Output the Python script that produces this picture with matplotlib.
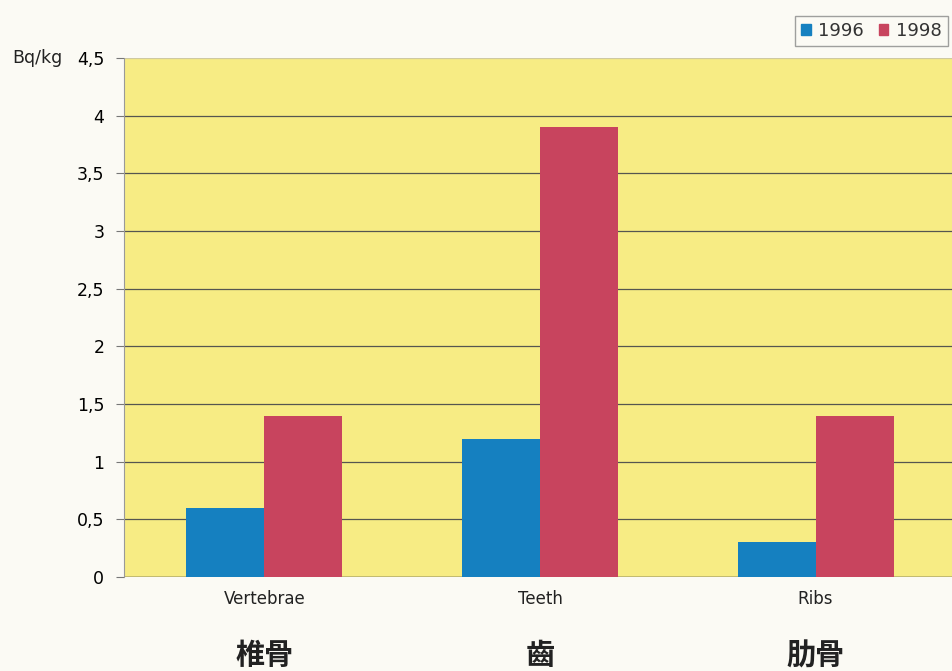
import numpy as np
import matplotlib.pyplot as plt
import matplotlib.patches as mpatches
from matplotlib.ticker import FuncFormatter

plt.rcParams['font.family'] = ['DejaVu Sans', 'Noto Sans CJK SC']

# dati
categorie = ['Vertebrae', 'Teeth', 'Ribs']
categorie_cn = ['椎骨', '齒', '肋骨']
valori_1996 = [0.6, 1.2, 0.3]
valori_1998 = [1.4, 3.9, 1.4]
anni = ['1996', '1998']
yticks = [0, 0.5, 1, 1.5, 2, 2.5, 3, 3.5, 4, 4.5]

blu = '#1580c0'
rosso = '#c8445e'
giallo = '#f7ec84'

fig = plt.figure(figsize=(9.52, 6.71), dpi=100)
fig.patch.set_facecolor('#fbfaf4')
ax = fig.add_axes([0.130, 0.140, 0.870, 0.7735])
ax.set_facecolor(giallo)

x = np.arange(len(categorie))
w = 0.283
ax.bar(x - w / 2, valori_1996, width=w, color=blu, zorder=3)
ax.bar(x + w / 2, valori_1998, width=w, color=rosso, zorder=3)

ax.set_xlim(-0.51, 2.495)
ax.set_ylim(0, 4.5)
ax.set_yticks(yticks)
ax.yaxis.set_major_formatter(FuncFormatter(lambda v, p: ('%g' % v).replace('.', ',')))
ax.grid(axis='y', color='#555550', linewidth=0.9, zorder=1)
ax.get_ygridlines()[-1].set_color('#cfc9a0')
ax.tick_params(axis='y', labelsize=12.5, length=6, width=0.8, color='#777777', pad=8)
ax.tick_params(axis='x', length=0)
ax.set_xticks([])

for s in ['top', 'right', 'bottom']:
    ax.spines[s].set_visible(False)
ax.spines['left'].set_color('#999999')
ax.spines['left'].set_linestyle((0, (2, 1)))
ax.axhline(0, color='#444444', linewidth=1.0, zorder=2)

# etichette categorie
for i in range(len(categorie)):
    ax.text(x[i], -0.19, categorie[i], ha='center', va='center', fontsize=12,
            color='#222222', family=['DejaVu Sans', 'Noto Sans CJK SC'])
    ax.text(x[i], -0.68, categorie_cn[i], ha='center', va='center', fontsize=21,
            fontweight='bold', color='#222222', family=['Noto Sans CJK SC', 'DejaVu Sans'])

fig.text(0.013, 0.913, 'Bq/kg', ha='left', va='center', fontsize=12.5, color='#222222')

# legenda
handles = [mpatches.Patch(color=blu, label=anni[0]), mpatches.Patch(color=rosso, label=anni[1])]
leg = fig.legend(handles=handles, loc='upper right', bbox_to_anchor=(1.005, 0.99), ncol=2,
                 fontsize=13, frameon=True, fancybox=False, handlelength=0.55, handleheight=0.55,
                 handletextpad=0.4, columnspacing=0.8, borderpad=0.35)
leg.get_frame().set_edgecolor('#888888')
leg.get_frame().set_facecolor('#fbfaf4')
for t in leg.get_texts():
    t.set_color('#333333')

fig.savefig('out.png', dpi=100, facecolor=fig.get_facecolor())
